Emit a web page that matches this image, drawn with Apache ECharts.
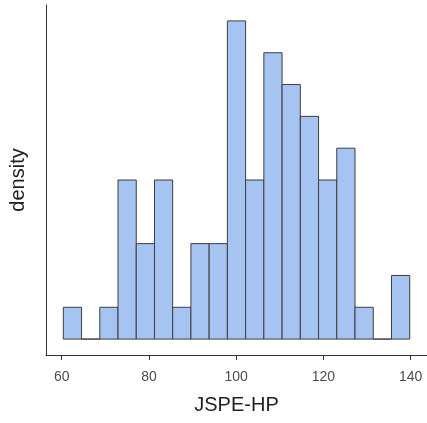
<!DOCTYPE html>
<html>
<head>
<meta charset="utf-8">
<script src="https://cdn.jsdelivr.net/npm/echarts@6/dist/echarts.min.js"></script>
<style>
html,body{margin:0;padding:0;background:#fff;}
#chart{width:427px;height:423px;}
</style>
</head>
<body>
<div id="chart"></div>
<script>
// Histogram bin edges (JSPE-HP) and counts per bin
const binEdges = [60.37, 64.55, 68.73, 72.91, 77.09, 81.27, 85.44, 89.62, 93.80, 97.98, 102.16, 106.34, 110.52, 114.70, 118.88, 123.06, 127.24, 131.42, 135.60, 139.78];
const counts = [1, 0, 1, 5, 3, 5, 1, 3, 3, 10, 5, 9, 8, 7, 5, 6, 1, 0, 2];
const xTicks = [60, 80, 100, 120, 140];

const data = counts.map((c, i) => [binEdges[i], binEdges[i + 1], c]);

const chart = echarts.init(document.getElementById('chart'), null, {renderer: 'canvas'});
chart.setOption({
  animation: false,
  backgroundColor: '#ffffff',
  grid: {left: 45, right: 0, top: 5, bottom: 68},
  xAxis: {
    type: 'value',
    min: 56.4,
    max: 143.74,
    interval: 20,
    name: 'JSPE-HP',
    nameLocation: 'middle',
    nameGap: 40,
    nameTextStyle: {fontFamily: 'Liberation Sans', fontSize: 20, color: '#222'},
    axisLine: {show: true, onZero: false, lineStyle: {color: '#333', width: 1}},
    axisTick: {show: true, length: 5, lineStyle: {color: '#333'},
      customValues: xTicks},
    axisLabel: {fontFamily: 'Liberation Sans', fontSize: 14, color: '#4d4d4d', margin: 15,
      customValues: xTicks, showMinLabel: true, showMaxLabel: true},
    splitLine: {show: false}
  },
  yAxis: {
    type: 'value',
    min: -0.5,
    max: 10.5,
    name: 'density',
    nameLocation: 'middle',
    nameGap: 18,
    nameTextStyle: {fontFamily: 'Liberation Sans', fontSize: 20, color: '#222'},
    axisLine: {show: true, lineStyle: {color: '#333', width: 1}},
    axisTick: {show: false},
    axisLabel: {show: false},
    splitLine: {show: false}
  },
  series: [{
    type: 'custom',
    data: data,
    encode: {x: [0, 1], y: 2},
    renderItem: function (params, api) {
      const p0 = api.coord([api.value(0), 0]);
      const p1 = api.coord([api.value(1), api.value(2)]);
      return {
        type: 'rect',
        shape: {x: p0[0], y: p1[1], width: p1[0] - p0[0], height: p0[1] - p1[1]},
        style: {fill: '#A6C4F1', stroke: '#3d3d3d', lineWidth: 1}
      };
    }
  }]
});
</script>
</body>
</html>
